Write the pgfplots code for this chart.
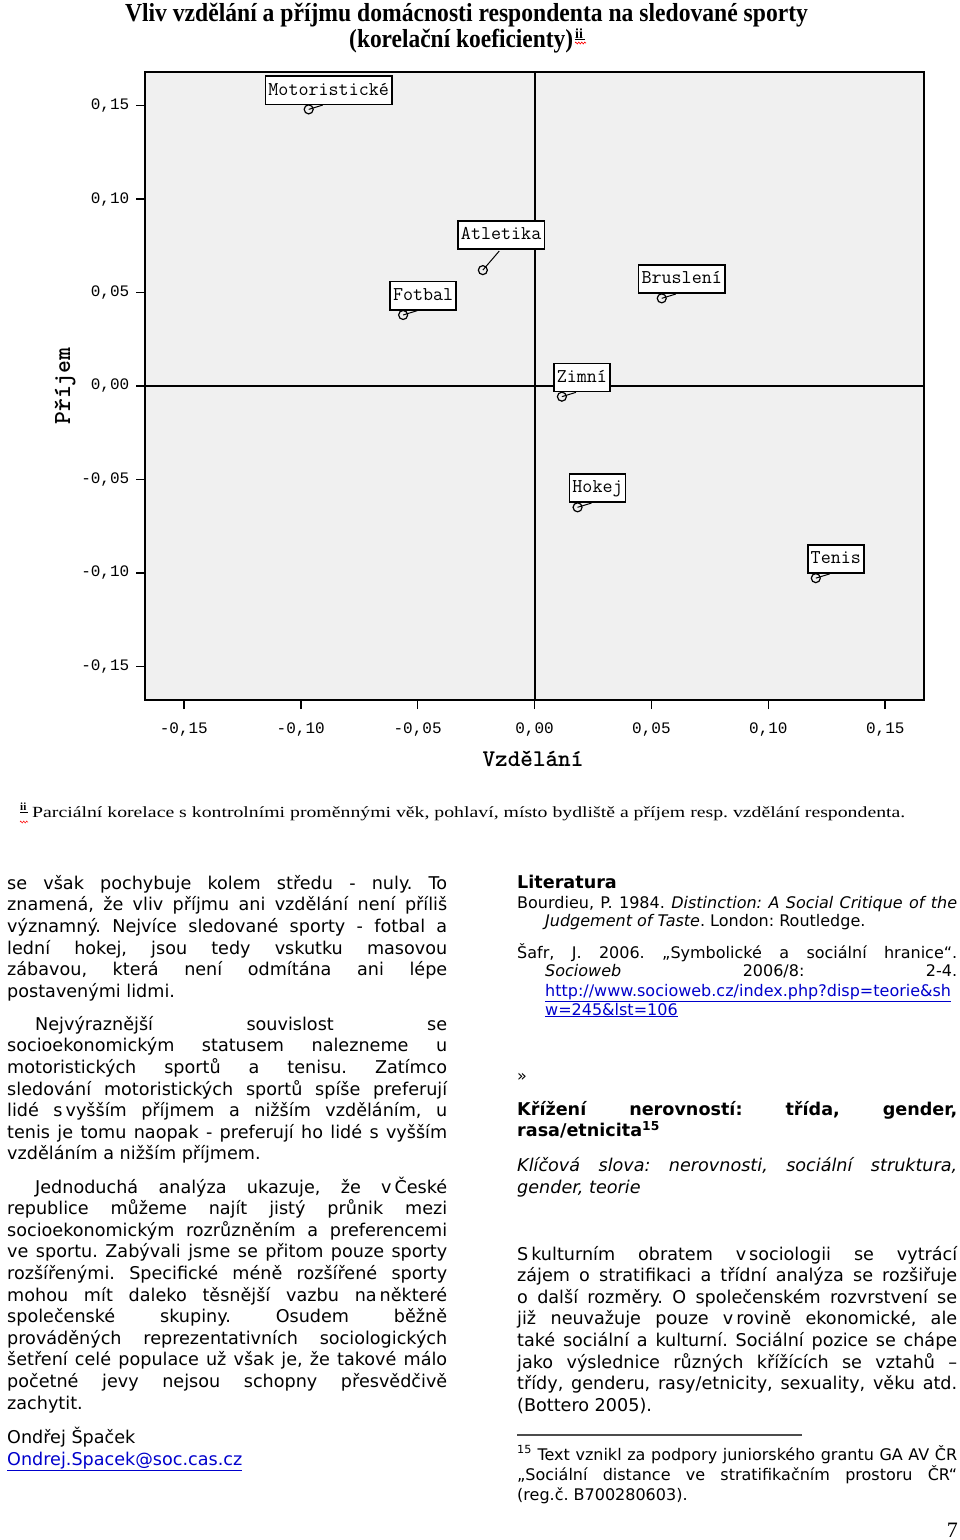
\documentclass[border=0pt]{standalone}
\usepackage{fontspec}
\usepackage{graphicx}
\usepackage{pgfplots}
\usepackage{pgfplotstable}
\pgfplotsset{compat=1.18}
\usetikzlibrary{decorations.pathmorphing}
\newfontfamily\vfont{DejaVu Sans}
\newfontfamily\sfont{Liberation Serif}
\newfontfamily\mfont{Liberation Mono}
\definecolor{plotbg}{RGB}{240,240,240}
\definecolor{linkblue}{RGB}{0,0,204}
\frenchspacing

\pgfplotstableread{
x y label
-0.0966 0.148 Motoristické
-0.0562 0.038 Fotbal
0.0544 0.0469 Bruslení
0.0117 -0.0057 Zimní
0.0184 -0.0649 Hokej
0.1203 -0.1028 Tenis
}\ptsA
\pgfplotstableread{
x y label
-0.0221 0.062 Atletika
}\ptsB
\pgfplotstableread{
x y u v
-0.0966 0.148 0.006 0.0023
-0.0562 0.038 0.006 0.0023
0.0544 0.0469 0.006 0.0023
0.0117 -0.0057 0.006 0.0023
0.0184 -0.0649 0.006 0.0023
0.1203 -0.1028 0.006 0.0023
-0.0221 0.062 0.007 0.0102
}\conn

\tikzset{
 body/.style={inner sep=0pt, font=\vfont\fontsize{17.6}{21.6}\selectfont},
 small/.style={inner sep=0pt, font=\vfont\fontsize{16}{19}\selectfont},
}
\newcommand\BL[2]{\node[body,anchor=base west] at (7,-#1) {\makebox[440pt][s]{#2}};}
\newcommand\BLi[2]{\node[body,anchor=base west] at (35,-#1) {\makebox[412pt][s]{#2}};}
\newcommand\BLl[2]{\node[body,anchor=base west] at (7,-#1) {#2};}
\newcommand\BR[2]{\node[body,anchor=base west] at (517,-#1) {\makebox[440pt][s]{#2}};}
\newcommand\BRl[2]{\node[body,anchor=base west] at (517,-#1) {#2};}

\begin{document}
\begin{tikzpicture}[x=1pt,y=1pt]
\useasboundingbox (0,0) rectangle (960,-1540);
\fill[white] (0,0) rectangle (960,-1540);

% ---- chart title ----
\node[anchor=base, inner sep=0pt] at (466.5,-21.7) {\sfont\bfseries\fontsize{26}{26}\selectfont\resizebox{683pt}{\height}{Vliv vzdělání a příjmu domácnosti respondenta na sledované sporty}};
\node[anchor=base west, inner sep=0pt] at (349,-47) {\sfont\bfseries\fontsize{26}{26}\selectfont\resizebox{224pt}{\height}{(korelační koeficienty)}};
\node[anchor=base west, inner sep=0pt] at (575,-38) {\sfont\bfseries\fontsize{14}{14}\selectfont ii};
\draw[black, line width=0.8pt] (575,-39.5) -- (585,-39.5);
\draw[red, line width=0.6pt, decorate, decoration={zigzag, amplitude=1pt, segment length=3pt}] (575,-43) -- (586,-43);

\begin{axis}[
  at={(145pt,-700pt)}, anchor=south west,
  scale only axis, width=779.3pt, height=628pt,
  xmin=-0.1666, xmax=0.1667, ymin=-0.168, ymax=0.168,
  axis background/.style={fill=plotbg},
  axis line style={black, line width=2pt},
  tick align=outside, major tick length=9pt,
  every tick/.style={black, line width=1.6pt},
  xtick pos=bottom, ytick pos=left,
  xtick={-0.15,-0.10,-0.05,0,0.05,0.10,0.15},
  ytick={-0.15,-0.10,-0.05,0,0.05,0.10,0.15},
  xticklabels={{-0,15},{-0,10},{-0,05},{0,00},{0,05},{0,10},{0,15}},
  yticklabels={{-0,15},{-0,10},{-0,05},{0,00},{0,05},{0,10},{0,15}},
  ticklabel style={font=\mfont\fontsize{16}{18}\selectfont, inner sep=0pt},
  xticklabel shift=14pt, yticklabel shift=6.5pt,
  clip=false,
]
\addplot[black, line width=2pt] coordinates {(0,-0.168) (0,0.168)};
\addplot[black, line width=2pt] coordinates {(-0.1666,0) (0.1667,0)};
\addplot[black, line width=1pt, no markers, quiver={u=\thisrow{u}, v=\thisrow{v}}] table[x=x,y=y] {\conn};
\addplot[only marks, mark=o, mark size=4.5pt, mark options={black, line width=1.2pt},
  nodes near coords, point meta=explicit symbolic, nodes near coords align={center},
  every node near coord/.append style={anchor=center, xshift=20pt, yshift=19.2pt, draw=black, line width=1.6pt, fill=white, text=black,
    font=\ttfamily\fontsize{19.5}{20}\selectfont, inner xsep=3pt, inner ysep=5pt, text height=14pt, text depth=4.3pt}]
  table[x=x,y=y,meta=label] {\ptsA};
\addplot[only marks, mark=o, mark size=4.5pt, mark options={black, line width=1.2pt},
  nodes near coords, point meta=explicit symbolic, nodes near coords align={center},
  every node near coord/.append style={anchor=center, xshift=18.3pt, yshift=35pt, draw=black, line width=1.6pt, fill=white, text=black,
    font=\ttfamily\fontsize{19.5}{20}\selectfont, inner xsep=3pt, inner ysep=5pt, text height=14pt, text depth=4.3pt}]
  table[x=x,y=y,meta=label] {\ptsB};
\end{axis}

\node[anchor=base, inner sep=0pt] at (533,-766) {\ttfamily\bfseries\fontsize{24}{24}\selectfont Vzdělání};
\node[anchor=base, rotate=90, inner sep=0pt] at (70,-386) {\ttfamily\bfseries\fontsize{24.5}{24}\selectfont Příjem};

% ---- chart footnote ----
\node[anchor=base west, inner sep=0pt] at (20,-810) {\sfont\bfseries\fontsize{11}{11}\selectfont ii};
\draw[black, line width=0.6pt] (20,-812) -- (28,-812);
\draw[red, line width=0.5pt, decorate, decoration={zigzag, amplitude=1pt, segment length=3pt}] (20,-822) -- (28,-822);
\node[anchor=base west, inner sep=0pt] at (32,-817) {\sfont\fontsize{15.5}{15.5}\selectfont\resizebox{873pt}{\height}{Parciální korelace s kontrolními proměnnými věk, pohlaví, místo bydliště a příjem resp. vzdělání respondenta.}};

% ---- left column ----
\BL{889.3}{se však pochybuje kolem středu - nuly. To}
\BL{910.9}{znamená, že vliv příjmu ani vzdělání není příliš}
\BL{932.5}{významný. Nejvíce sledované sporty - fotbal a}
\BL{954.1}{lední hokej, jsou tedy vskutku masovou}
\BL{975.7}{zábavou, která není odmítána ani lépe}
\BLl{997.3}{postavenými lidmi.}

\BLi{1030.3}{Nejvýraznější souvislost se}
\BL{1051.9}{socioekonomickým statusem nalezneme u}
\BL{1073.5}{motoristických sportů a tenisu. Zatímco}
\BL{1095.1}{sledování motoristických sportů spíše preferují}
\BL{1116.7}{lidé s\,vyšším příjmem a nižším vzděláním, u}
\BL{1138.3}{tenis je tomu naopak - preferují ho lidé s vyšším}
\BLl{1159.9}{vzděláním a nižším příjmem.}

\BLi{1193}{Jednoduchá analýza ukazuje, že v\,České}
\BL{1214.6}{republice můžeme najít jistý průnik mezi}
\BL{1236.2}{socioekonomickým rozrůzněním a preferencemi}
\BL{1257.8}{ve sportu. Zabývali jsme se přitom pouze sporty}
\BL{1279.4}{rozšířenými. Specifické méně rozšířené sporty}
\BL{1301}{mohou mít daleko těsnější vazbu na\,některé}
\BL{1322.6}{společenské skupiny. Osudem běžně}
\BL{1344.2}{prováděných reprezentativních sociologických}
\BL{1365.8}{šetření celé populace už však je, že takové málo}
\BL{1387.4}{početné jevy nejsou schopny přesvědčivě}
\BLl{1409}{zachytit.}

\BLl{1443}{Ondřej Špaček}
\BLl{1465}{\color{linkblue}\underline{Ondrej.Spacek@soc.cas.cz}}

% ---- right column ----
\BRl{888}{\bfseries Literatura}
\node[small,anchor=base west] at (517,-908.3) {\makebox[440pt][s]{Bourdieu, P. 1984. \itshape Distinction: A Social Critique of the}};
\node[small,anchor=base west] at (545,-926.8) {\itshape Judgement of Taste\upshape. London: Routledge.};
\node[small,anchor=base west] at (517,-958) {\makebox[440pt][s]{Šafr, J. 2006. „Symbolické a sociální hranice“.}};
\node[small,anchor=base west] at (545,-976.7) {\makebox[412pt][s]{\itshape Socioweb\upshape{} 2006/8: 2-4.}};
\node[small,anchor=base west] at (545,-996) {\color{linkblue}\underline{http://www.socioweb.cz/index.php?disp=teorie\&sh}};
\node[small,anchor=base west] at (545,-1015) {\color{linkblue}\underline{w=245\&lst=106}};
\node[small,anchor=base west] at (517,-1081) {»};

\BR{1115}{\bfseries Křížení nerovností: třída, gender,}
\BRl{1136.7}{\bfseries rasa/etnicita\textsuperscript{15}}
\BR{1171.7}{\itshape Klíčová slova: nerovnosti, sociální struktura,}
\BRl{1193.3}{\itshape gender, teorie}

\BR{1260}{S\,kulturním obratem v\,sociologii se vytrácí}
\BR{1281.6}{zájem o stratifikaci a třídní analýza se rozšiřuje}
\BR{1303.2}{o další rozměry. O společenském rozvrstvení se}
\BR{1324.8}{již neuvažuje pouze v\,rovině ekonomické, ale}
\BR{1346.4}{také sociální a kulturní. Sociální pozice se chápe}
\BR{1368}{jako výslednice různých křížících se vztahů –}
\BR{1389.6}{třídy, genderu, rasy/etnicity, sexuality, věku atd.}
\BRl{1411.2}{(Bottero 2005).}

\draw[black!70, line width=1.4pt] (517,-1435) -- (802,-1435);
\node[small,anchor=base west] at (517,-1460) {\makebox[440pt][s]{\textsuperscript{15} Text vznikl za podpory juniorského grantu GA AV ČR}};
\node[small,anchor=base west] at (517,-1480) {\makebox[440pt][s]{„Sociální distance ve stratifikačním prostoru ČR“}};
\node[small,anchor=base west] at (517,-1500) {(reg.č. B700280603).};

\node[anchor=base east, inner sep=0pt] at (958,-1537) {\sfont\fontsize{22}{22}\selectfont 7};
\end{tikzpicture}
\end{document}
